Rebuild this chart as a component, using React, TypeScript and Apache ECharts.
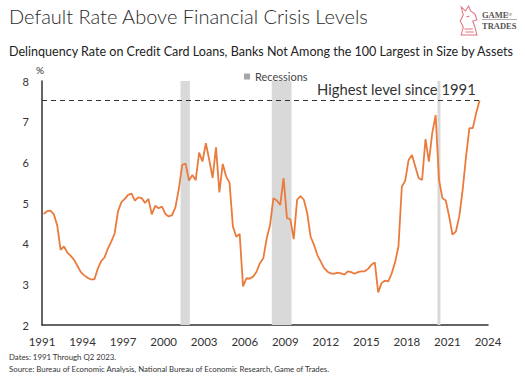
import React, { useEffect, useRef } from "react";
import * as echarts from "echarts";

const START_YEAR = 1991;
const END_YEAR = 2024;
const TICK_STEP = 3;

// Quarterly delinquency rate (%), 1991 Q1 through 2023 Q2
const delinquencyRate = [
  4.73, 4.8, 4.81, 4.72,
  4.45, 3.85, 3.93, 3.78,
  3.7, 3.6, 3.45, 3.3,
  3.22, 3.16, 3.12, 3.12,
  3.38, 3.57, 3.66, 3.88,
  4.05, 4.25, 4.8, 5.02,
  5.1, 5.2, 5.23, 5.06,
  5.14, 5.12, 5.0, 5.1,
  4.72, 4.93, 4.87, 4.91,
  4.73, 4.67, 4.7, 4.9,
  5.35, 5.94, 5.97, 5.55,
  5.69, 5.56, 6.24, 6.02,
  6.47, 6.06, 5.62, 6.37,
  5.26, 5.96, 5.65, 5.5,
  4.42, 4.17, 4.24, 2.95,
  3.15, 3.14, 3.19, 3.31,
  3.52, 3.64, 4.13, 4.46,
  5.12, 5.06, 4.95, 5.61,
  4.63, 4.6, 4.11, 5.08,
  5.17, 5.08, 4.75, 4.17,
  3.97, 3.72, 3.56, 3.4,
  3.31, 3.27, 3.26, 3.29,
  3.27, 3.24, 3.32, 3.3,
  3.26, 3.3, 3.32, 3.32,
  3.38, 3.48, 3.54, 2.8,
  3.03, 3.09, 3.07, 3.27,
  3.54, 3.93, 5.4, 5.55,
  6.06, 6.18, 5.89, 5.61,
  5.57, 6.57, 6.02, 6.72,
  7.16, 5.57, 5.12, 5.06,
  4.67, 4.22, 4.3, 4.67,
  5.32, 6.14, 6.84, 6.84,
  7.21, 7.52,
];

const recessionStart = [2001.25, 2008.0, 2020.26];
const recessionEnd = [2001.94, 2009.46, 2020.48];
const highestLevel = 7.53;

const titleText = "Default Rate Above Financial Crisis Levels";
const subtitleText =
  "Delinquency Rate on Credit Card Loans, Banks Not Among the 100 Largest in Size by Assets";
const annotationText = "Highest level since 1991";
const footnoteDates = "Dates: 1991 Through Q2 2023.";
const footnoteSource =
  "Source: Bureau of Economic Analysis, National Bureau of Economic Research, Game of Trades.";

const FONT = "Lato, 'Open Sans', sans-serif";

export default function App() {
  const ref = useRef<HTMLDivElement>(null);

  useEffect(() => {
    document.body.style.margin = "0";
    if (!ref.current) return;
    echarts.graphic.registerShape(
      "knight",
      echarts.graphic.extendPath(
        "M4 32 L6 24 L3 18 L6 12 L4 4 L8 8 L11 3 L13 8 L17 11 L19 17 L15 18 L17 24 L19 32 Z M7 26 L15 26 M8 29 L16 29 M9 14 L12 13",
        {}
      )
    );
    const chart = echarts.init(ref.current, null, { renderer: "svg" });

    const points = delinquencyRate.map((v, i) => [i / 4 + 0.125, v]);
    const lastX = (delinquencyRate.length - 1) / 4 + 0.125;

    const option: any = {
      animation: false,
      textStyle: { fontFamily: FONT },
      grid: { left: 42, right: 37, top: 81, bottom: 56, containLabel: false },
      legend: {
        data: ["Recessions"],
        left: 239,
        top: 66,
        icon: "rect",
        itemWidth: 6,
        itemHeight: 6,
        itemGap: 4,
        textStyle: { fontSize: 11, color: "#444", fontFamily: FONT },
      },
      xAxis: {
        type: "value",
        min: 0,
        max: END_YEAR - START_YEAR,
        interval: TICK_STEP,
        axisLine: { show: true, lineStyle: { color: "#333", width: 1.5 } },
        axisTick: { show: false },
        splitLine: { show: false },
        axisLabel: {
          formatter: (v: number) => String(START_YEAR + v),
          color: "#333",
          fontSize: 11.5,
          margin: 10,
          fontFamily: FONT,
        },
      },
      yAxis: {
        type: "value",
        min: 2,
        max: 8,
        interval: 1,
        axisLine: { show: true, lineStyle: { color: "#333", width: 1.5 } },
        axisTick: { show: false },
        splitLine: { show: false },
        axisLabel: { color: "#333", fontSize: 11, margin: 13, fontFamily: FONT },
      },
      series: [
        {
          name: "Recessions",
          type: "line",
          data: [],
          itemStyle: { color: "#a6a6a6" },
          lineStyle: { color: "#a6a6a6" },
          markArea: {
            silent: true,
            itemStyle: { color: "#d9d9d9" },
            data: recessionStart.map((s, i) => [
              { xAxis: s - START_YEAR },
              { xAxis: recessionEnd[i] - START_YEAR },
            ]),
          },
        },
        {
          name: "Delinquency",
          type: "line",
          data: points,
          showSymbol: false,
          symbol: "none",
          lineStyle: { color: "#ea7b3c", width: 1.8 },
          itemStyle: { color: "#ea7b3c" },
          z: 3,
          markLine: {
            silent: true,
            symbol: ["none", "none"],
            label: { show: false },
            lineStyle: { color: "#333", type: [5, 4], width: 1 },
            data: [[{ coord: [0, highestLevel] }, { coord: [lastX, highestLevel] }]],
          },
        },
      ],
      graphic: [
        {
          type: "text",
          left: 9,
          top: 6,
          style: { text: titleText, fontSize: 20, fill: "#2a2a2a", fontFamily: FONT, fontWeight: 300 },
        },
        {
          type: "text",
          left: 9,
          top: 45,
          style: { text: subtitleText, fontSize: 12.55, fill: "#222", fontFamily: FONT },
        },
        {
          type: "text",
          left: 36,
          top: 65,
          style: { text: "%", fontSize: 10, fill: "#333", fontFamily: FONT },
        },
        {
          type: "text",
          left: 317,
          top: 81,
          style: { text: annotationText, fontSize: 14.8, fill: "#333", fontFamily: FONT },
        },
        {
          type: "text",
          left: 9,
          top: 353,
          style: { text: footnoteDates, fontSize: 7.8, fill: "#333", fontFamily: FONT },
        },
        {
          type: "text",
          left: 9,
          top: 365,
          style: { text: footnoteSource, fontSize: 7.8, fill: "#333", fontFamily: FONT },
        },
        {
          type: "knight",
          x: 457,
          y: 3,
          scaleX: 1.05,
          scaleY: 1.0,
          style: { fill: "none", stroke: "#e0737e", lineWidth: 1 },
        },
        {
          type: "text",
          left: 482,
          top: 10,
          style: { text: "GAME", fontSize: 8.5, fill: "#555", fontFamily: "'Liberation Serif', serif", fontWeight: "bold" },
        },
        {
          type: "text",
          left: 507,
          top: 12,
          style: { text: "OF", fontSize: 4, fill: "#555", fontFamily: "'Liberation Serif', serif" },
        },
        {
          type: "line",
          shape: { x1: 482, y1: 19.5, x2: 517, y2: 19.5 },
          style: { stroke: "#777", lineWidth: 0.6 },
        },
        {
          type: "text",
          left: 482,
          top: 21,
          style: { text: "TRADES", fontSize: 8.5, fill: "#555", fontFamily: "'Liberation Serif', serif", fontWeight: "bold" },
        },
      ],
    };
    chart.setOption(option);
    return () => chart.dispose();
  }, []);

  return <div ref={ref} style={{ width: 525, height: 381 }} />;
}
